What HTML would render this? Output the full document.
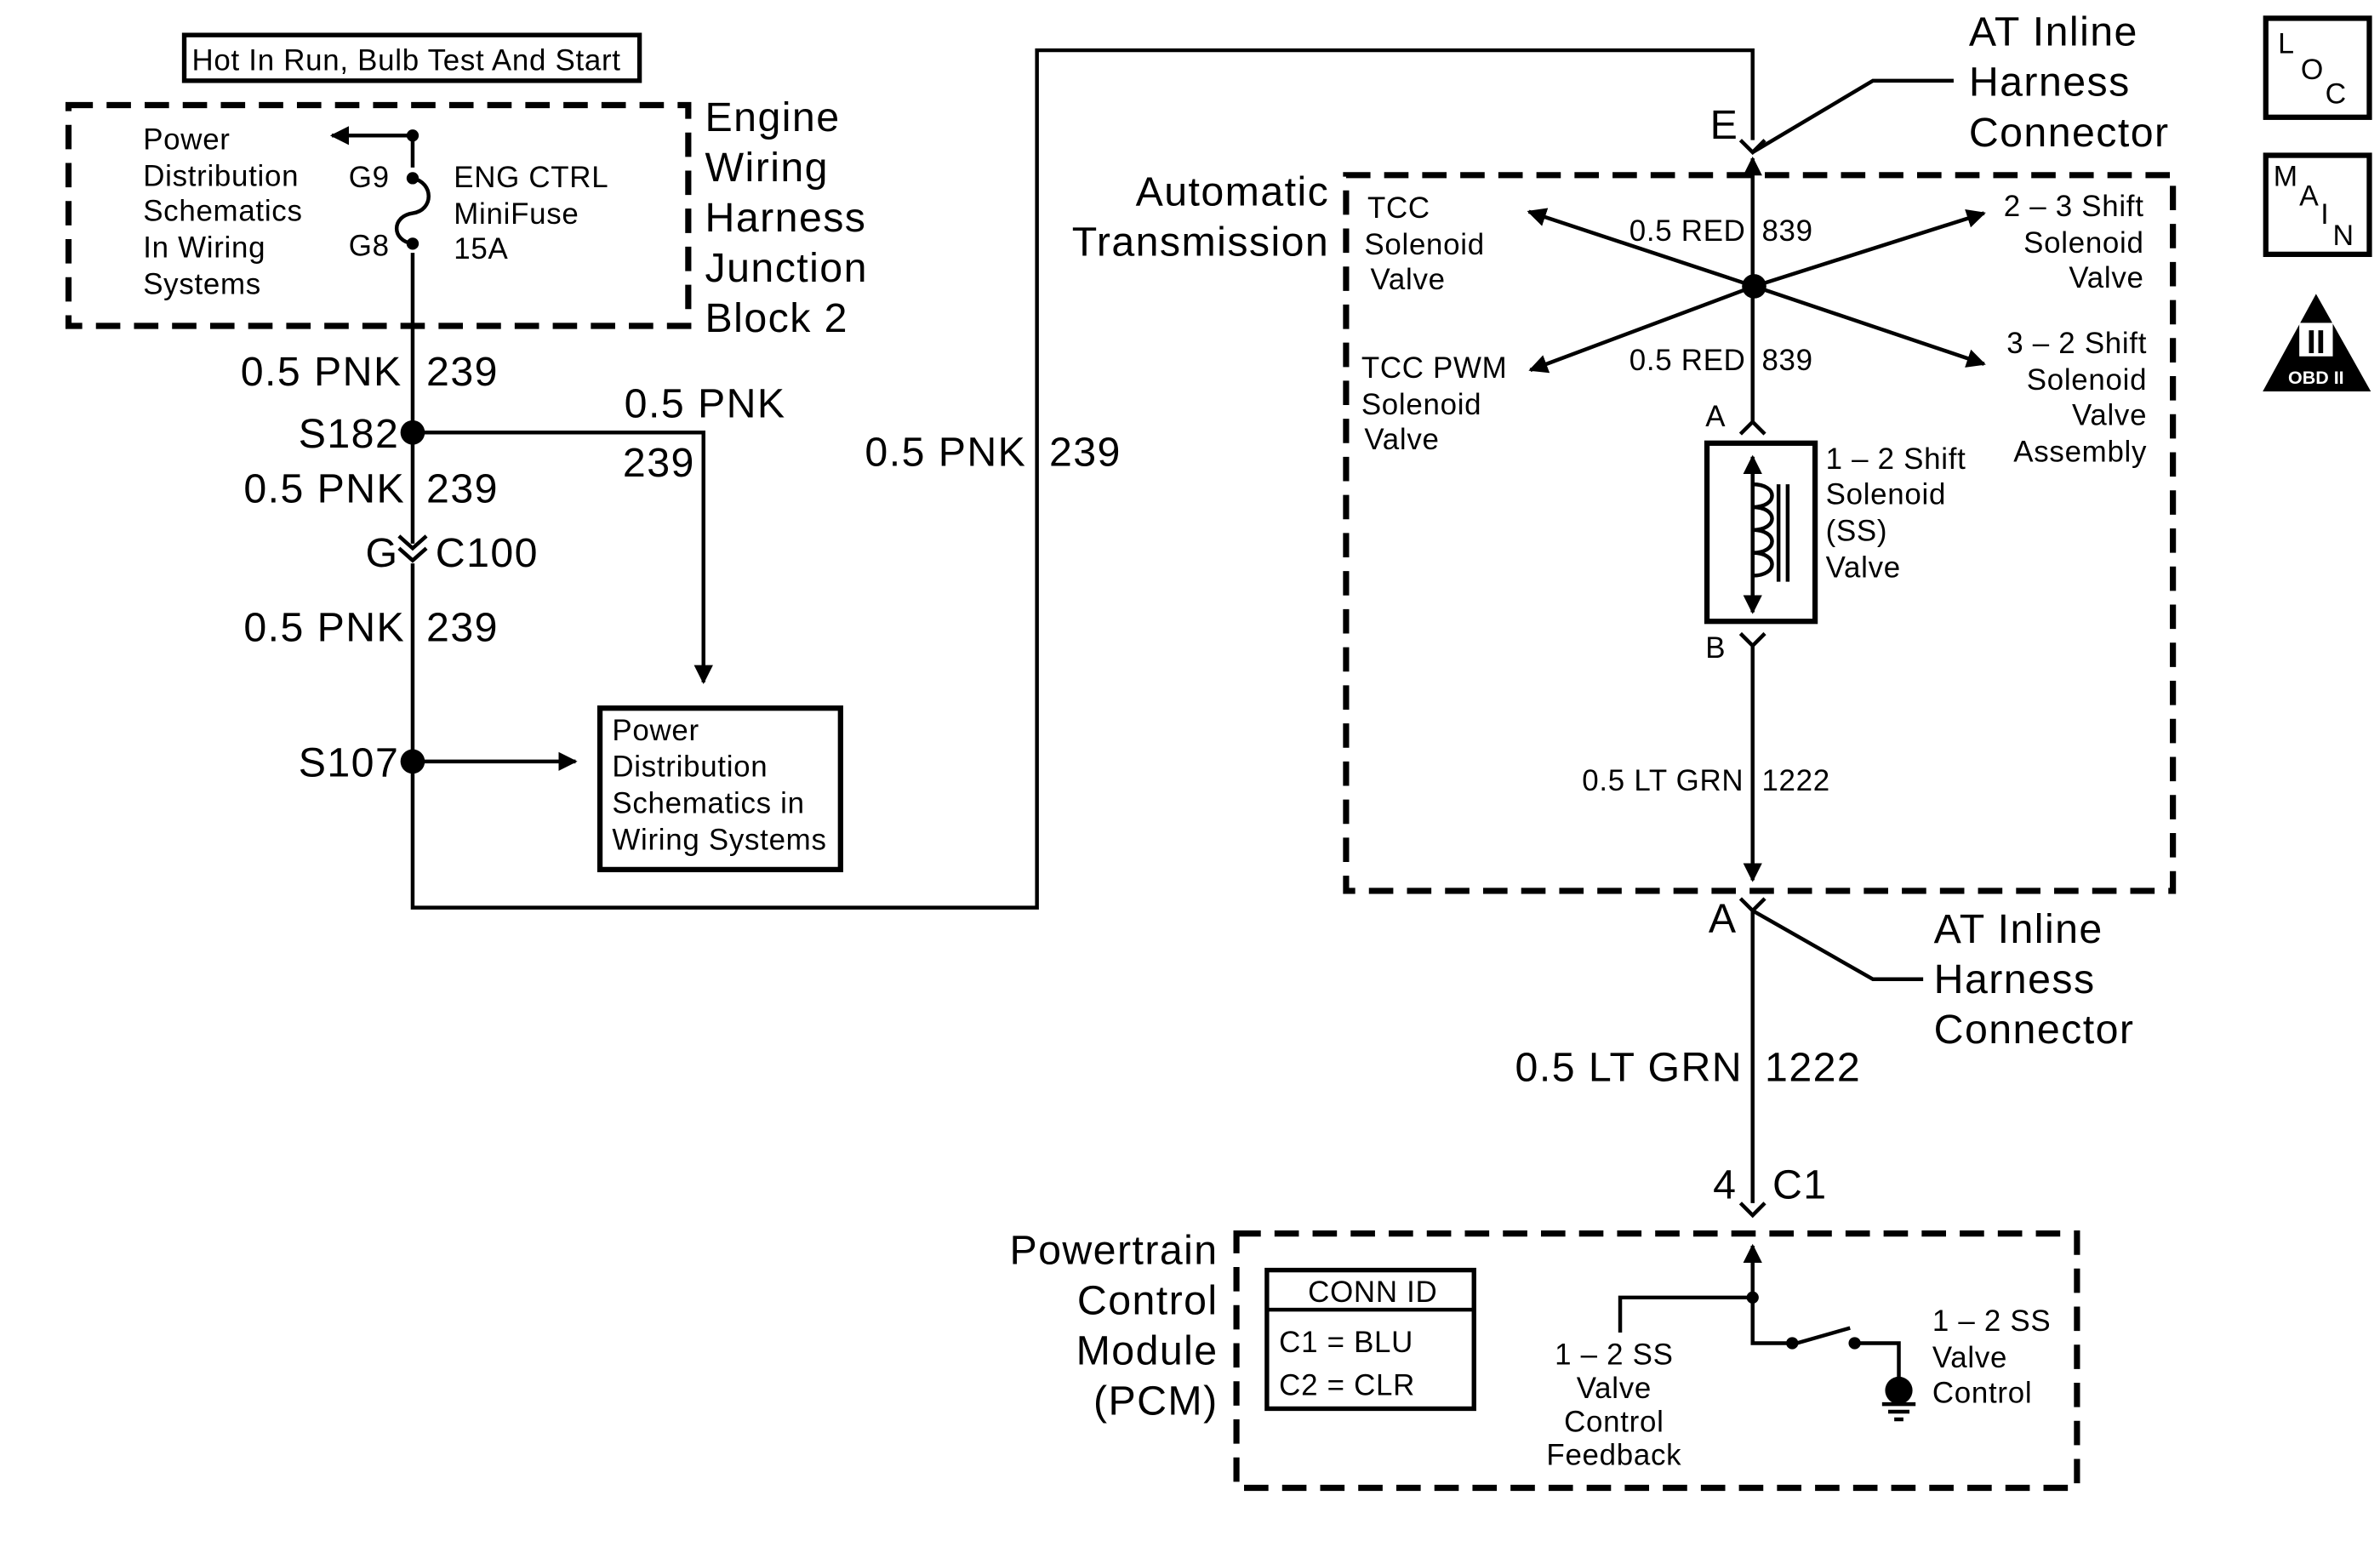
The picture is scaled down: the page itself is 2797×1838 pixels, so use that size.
<!DOCTYPE html>
<html><head><meta charset="utf-8"><style>
html,body{margin:0;padding:0;background:#fff;}
svg{display:block;}
text{font-family:"Liberation Sans",Arial,sans-serif;fill:#000;}
.s{font-size:19.5px;letter-spacing:0.4px;}
.l{font-size:27px;letter-spacing:0.8px;}
</style></head><body>
<svg width="2797" height="1838" viewBox="0 0 1563 1027" preserveAspectRatio="none" xmlns="http://www.w3.org/2000/svg">
<defs>
<marker id="ah" viewBox="0 0 10 10" refX="9" refY="5" markerWidth="5" markerHeight="5" orient="auto"><path d="M0,0 L10,5 L0,10 z" fill="#000"/></marker>
</defs>
<g stroke="#000" stroke-width="2.5" fill="none">
<rect x="121" y="23" width="299" height="30" stroke-width="3"/>
<rect x="45" y="69" width="407" height="145" stroke-width="4" stroke-dasharray="16,9"/>
<rect x="884" y="115" width="543" height="470" stroke-width="4" stroke-dasharray="16,9"/>
<rect x="812" y="810" width="552" height="167" stroke-width="4" stroke-dasharray="16,9"/>
<path d="M271,89 V110"/>
<path d="M271,166 V357"/>
<path d="M271,370 V596 H681 V33 H1151 V92"/>
<path d="M271,117 C285,120 285,138 271,140 C257,142 257,158 271,160"/>
<path d="M271,89 H218" marker-end="url(#ah)"/>
<path d="M262,352 L271,360 L280,352 M262,360 L271,368 L280,360"/>
<path d="M271,284 H462 V448" marker-end="url(#ah)"/>
<path d="M271,500 H378" marker-end="url(#ah)"/>
<rect x="394" y="465" width="158" height="106" stroke-width="3.5"/>
<path d="M1143,92 L1151,100 L1159,92"/>
<path d="M1151,100 L1230,53 H1283"/>
<path d="M1151,278 V104" marker-end="url(#ah)"/>
<path d="M1152,188 L1004,139" marker-end="url(#ah)"/>
<path d="M1152,188 L1303,140" marker-end="url(#ah)"/>
<path d="M1152,188 L1005,243" marker-end="url(#ah)"/>
<path d="M1152,188 L1303,239" marker-end="url(#ah)"/>
<path d="M1143,285 L1151,277 L1159,285"/>
<rect x="1121" y="291" width="71" height="117" stroke-width="3.5"/>
<path d="M1151,402 V300" marker-end="url(#ah)"/>
<path d="M1151,300 V402" marker-end="url(#ah)"/>
<path d="M1151,318 C1168,318 1168,333 1151,333 C1168,333 1168,348 1151,348 C1168,348 1168,363 1151,363 C1168,363 1168,378 1151,378"/>
<path d="M1168,318 V382 M1174,318 V382"/>
<path d="M1143,416 L1151,424 L1159,416"/>
<path d="M1151,424 V578" marker-end="url(#ah)"/>
<path d="M1143,590 L1151,598 L1159,590"/>
<path d="M1151,598 L1230,643 H1263"/>
<path d="M1151,598 V790"/>
<path d="M1143,790 L1151,798 L1159,790"/>
<path d="M1151,852 V818" marker-end="url(#ah)"/>
<path d="M1064,875 V852 H1151 V882 H1177"/>
<path d="M1180,882 L1215,872"/>
<path d="M1218,882 H1247 V908"/>
<path d="M1236,922 H1258 M1240,927 H1254 M1244,932 H1250"/>
<rect x="832" y="834" width="136" height="91" stroke-width="3"/>
<path d="M832,860 H968"/>
<rect x="1488" y="12" width="68" height="65" stroke-width="3.5"/>
<rect x="1488" y="102" width="68" height="65" stroke-width="3.5"/>
</g>
<g fill="#000">
<circle cx="271" cy="89" r="4"/><circle cx="271" cy="117" r="4"/><circle cx="271" cy="160" r="4"/>
<circle cx="271" cy="284" r="8"/><circle cx="271" cy="500" r="8"/>
<circle cx="1152" cy="188" r="8"/>
<circle cx="1151" cy="852" r="4"/><circle cx="1177" cy="882" r="4"/><circle cx="1218" cy="882" r="4"/>
<circle cx="1247" cy="913" r="9"/>
<path d="M1521,193 L1486,257 H1557 Z"/>
</g>
<rect x="1510" y="212" width="22" height="22" fill="#fff"/>
<text x="1521" y="232" font-size="22" font-weight="bold" text-anchor="middle" font-family="Liberation Serif">II</text>
<text x="1521" y="252" font-size="12" font-weight="bold" text-anchor="middle" style="fill:#fff">OBD II</text>
<text x="1496" y="35" font-size="19">L</text><text x="1511" y="52" font-size="19">O</text><text x="1527" y="68" font-size="19">C</text>
<text x="1493" y="122" font-size="19">M</text><text x="1510" y="135" font-size="19">A</text><text x="1524" y="147" font-size="19">I</text><text x="1532" y="161" font-size="19">N</text>

<g class="s">
<text x="126" y="46">Hot In Run, Bulb Test And Start</text>
<text x="94" y="98">Power</text><text x="94" y="122">Distribution</text><text x="94" y="145">Schematics</text><text x="94" y="169">In Wiring</text><text x="94" y="193">Systems</text>
<text x="229" y="123">G9</text><text x="229" y="168">G8</text>
<text x="298" y="123">ENG CTRL</text><text x="298" y="147">MiniFuse</text><text x="298" y="170">15A</text>
<text x="402" y="486">Power</text><text x="402" y="510">Distribution</text><text x="402" y="534">Schematics in</text><text x="402" y="558">Wiring Systems</text>
<text x="898" y="143">TCC</text><text x="896" y="167">Solenoid</text><text x="900" y="190">Valve</text>
<text x="894" y="248">TCC PWM</text><text x="894" y="272">Solenoid</text><text x="896" y="295">Valve</text>
<text x="1408" y="142" text-anchor="end">2 – 3 Shift</text><text x="1408" y="166" text-anchor="end">Solenoid</text><text x="1408" y="189" text-anchor="end">Valve</text>
<text x="1410" y="232" text-anchor="end">3 – 2 Shift</text><text x="1410" y="256" text-anchor="end">Solenoid</text><text x="1410" y="279" text-anchor="end">Valve</text><text x="1410" y="303" text-anchor="end">Assembly</text>
<text x="1070" y="158">0.5 RED</text><text x="1157" y="158">839</text>
<text x="1070" y="243">0.5 RED</text><text x="1157" y="243">839</text>
<text x="1120" y="280">A</text><text x="1120" y="432">B</text>
<text x="1199" y="308">1 – 2 Shift</text><text x="1199" y="331">Solenoid</text><text x="1199" y="355">(SS)</text><text x="1199" y="379">Valve</text>
<text x="1039" y="519">0.5 LT GRN</text><text x="1157" y="519">1222</text>
<text x="859" y="855">CONN ID</text>
<text x="840" y="888">C1  =  BLU</text><text x="840" y="916">C2  =  CLR</text>
<text x="1060" y="896" text-anchor="middle">1 – 2 SS</text><text x="1060" y="918" text-anchor="middle">Valve</text><text x="1060" y="940" text-anchor="middle">Control</text><text x="1060" y="962" text-anchor="middle">Feedback</text>
<text x="1269" y="874">1 – 2 SS</text><text x="1269" y="898">Valve</text><text x="1269" y="921">Control</text>
</g>
<g class="l">
<text x="463" y="86">Engine</text><text x="463" y="119">Wiring</text><text x="463" y="152">Harness</text><text x="463" y="185">Junction</text><text x="463" y="218">Block 2</text>
<text x="158" y="253">0.5 PNK</text><text x="280" y="253">239</text>
<text x="196" y="294">S182</text>
<text x="410" y="274">0.5 PNK</text><text x="409" y="313">239</text>
<text x="160" y="330">0.5 PNK</text><text x="280" y="330">239</text>
<text x="240" y="372">G</text><text x="286" y="372">C100</text>
<text x="160" y="421">0.5 PNK</text><text x="280" y="421">239</text>
<text x="196" y="510">S107</text>
<text x="568" y="306">0.5 PNK</text><text x="689" y="306">239</text>
<text x="873" y="135" text-anchor="end">Automatic</text><text x="873" y="168" text-anchor="end">Transmission</text>
<text x="1293" y="30">AT Inline</text><text x="1293" y="63">Harness</text><text x="1293" y="96">Connector</text>
<text x="1123" y="91">E</text>
<text x="1122" y="612">A</text>
<text x="1270" y="619">AT Inline</text><text x="1270" y="652">Harness</text><text x="1270" y="685">Connector</text>
<text x="995" y="710">0.5 LT GRN</text><text x="1159" y="710">1222</text>
<text x="1125" y="787">4</text><text x="1164" y="787">C1</text>
<text x="800" y="830" text-anchor="end">Powertrain</text><text x="800" y="863" text-anchor="end">Control</text><text x="800" y="896" text-anchor="end">Module</text><text x="800" y="929" text-anchor="end">(PCM)</text>
</g>
</svg>
</body></html>
